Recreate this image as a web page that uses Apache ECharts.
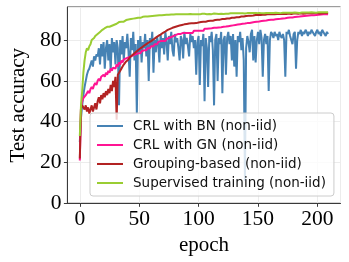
<!DOCTYPE html>
<html>
<head>
<meta charset="utf-8">
<script src="https://cdn.jsdelivr.net/npm/echarts@6/dist/echarts.min.js"></script>
<style>html,body{margin:0;padding:0;background:#fff;}#c{width:349px;height:262px;}</style>
</head>
<body>
<div id="c"></div>
<script>
const seriesNames = ['CRL with BN (non-iid)', 'CRL with GN (non-iid)', 'Grouping-based (non-iid)', 'Supervised training (non-iid)'];
const xTickLabels = [0, 50, 100, 150, 200];
const yTickLabels = [0, 20, 40, 60, 80];

const crlBN = [
30, 42, 48, 53, 57, 60, 63, 65, 66, 68,
70, 67, 72, 70, 73, 72, 76, 68, 78, 72,
79, 66, 76, 80, 70, 78, 65, 81, 74, 79,
68, 80, 76, 48, 80, 73, 82, 70, 79, 76,
83, 74, 62, 81, 75, 84, 70, 78, 44, 80,
74, 82, 69, 79, 76, 83, 72, 80, 60, 81,
77, 84, 64, 80, 74, 82, 78, 69, 83, 76,
81, 73, 84, 79, 70, 82, 78, 84, 75, 72,
83, 79, 81, 76, 70, 82, 80, 71, 84, 78,
81, 77, 72, 83, 79, 82, 76, 80, 63, 79,
82, 58, 80, 77, 83, 50, 81, 76, 57, 82,
79, 84, 75, 48, 80, 83, 60, 81, 78, 84,
54, 80, 82, 63, 81, 84, 78, 82, 70, 83,
67, 80, 62, 82, 79, 84, 75, 81, 70, 11,
76, 82, 79, 74, 83, 85, 70, 82, 69, 80,
84, 78, 85, 81, 62, 80, 83, 78, 82, 55,
80, 84, 83, 81, 84, 82, 83, 80, 84, 82,
81, 83, 80, 62, 84, 83, 85, 82, 80, 78,
83, 84, 66, 80, 84, 83, 85, 82, 84, 83,
85, 84, 82, 84, 83, 85, 84, 83, 82, 84,
85, 83, 84, 82, 85, 84, 83, 82, 84, 83
];
const crlGN = [
21, 47, 50, 51.5, 52, 53, 52.5, 55, 54, 56,
57, 56, 58, 59, 58, 60, 61, 60, 62, 61.5,
63, 62, 64, 63, 65, 64, 66, 65, 66.5, 67,
66, 68, 67, 69, 68, 70, 69, 70.5, 70, 71,
70.5, 71.5, 71, 72, 71.5, 72.5, 72, 73, 72.5, 73.5,
74, 73.5, 74.5, 74, 75, 75.5, 75, 76, 76.5, 76,
77, 77.5, 77, 78, 78.5, 78, 79, 78.5, 79.5, 79,
79.5, 80, 79.5, 80.5, 80, 81, 80.5, 81.5, 81, 82,
81.5, 82.5, 82, 83, 82.5, 83, 82.5, 83.5, 83, 83.5,
83, 83.5, 84, 83.5, 84, 83.5, 84.5, 84, 84.5, 84,
84.5, 85, 84.5, 85, 84.5, 85.5, 85, 85.5, 85, 85.7,
85.3, 85.8, 85.5, 86, 85.5, 86, 85.7, 86.2, 85.8, 86.3,
86, 86.5, 86.1, 86.6, 86.2, 86.8, 86.4, 87, 86.6, 87.2,
86.8, 87.4, 87, 87.6, 87.2, 87.8, 87.4, 88, 87.6, 88.1,
87.8, 88.3, 88, 88.4, 88.1, 88.6, 88.3, 88.8, 88.5, 89,
88.7, 89.1, 88.9, 89.3, 89, 89.5, 89.2, 89.6, 89.4, 89.8,
89.5, 89.9, 89.7, 90, 89.8, 90.2, 89.9, 90.3, 90.1, 90.4,
90.2, 90.6, 90.3, 90.7, 90.5, 90.9, 90.6, 91, 90.8, 91.1,
90.9, 91.3, 91, 91.4, 91.2, 91.5, 91.3, 91.7, 91.4, 91.8,
91.6, 91.9, 91.7, 92, 91.8, 92.1, 91.9, 92.2, 92, 92.3,
92.1, 92.4, 92.2, 92.5, 92.3, 92.6, 92.4, 92.8, 92.5, 92.7
];
const grouping = [
22, 47, 48, 47, 46, 48, 45, 47, 44, 46,
48, 45, 47, 49, 46, 50, 52, 49, 53, 51,
54, 52, 55, 53, 56, 54, 58, 55, 60, 57,
62, 41, 63, 64, 65, 66, 67, 68, 68.5, 69.5,
70, 70.5, 71.5, 71.8, 72.5, 73, 73.5, 74, 74.5, 75.2,
75.5, 76, 76.3, 76.8, 77.2, 77.5, 78, 78.4, 78.8, 79.2,
79.5, 80, 80.3, 80.8, 81.2, 81.5, 82, 82.3, 82.7, 83,
83.5, 83.8, 84.2, 84.5, 85, 85.2, 85.5, 85.7, 86, 86.2,
86.4, 86.6, 86.8, 87, 87.1, 87.3, 87.4, 87.5, 87.7, 87.8,
87.9, 88, 88.1, 88.1, 88.2, 88.3, 88.2, 88.4, 88.3, 88.5,
88.6, 88.7, 88.8, 88.9, 89, 89.1, 89, 89.2, 89.3, 89.4,
89.5, 89.6, 89.5, 89.7, 89.8, 89.9, 90, 90.1, 90, 90.2,
90.3, 90.4, 90.3, 90.5, 90.6, 90.7, 90.6, 90.8, 90.9, 91,
90.9, 91.1, 91.2, 91.3, 91.2, 91.4, 91.5, 91.6, 91.5, 91.7,
91.8, 91.7, 91.9, 92, 91.9, 92.1, 92, 92.2, 92.3, 92.2,
92.3, 92.4, 92.3, 92.5, 92.4, 92.5, 92.4, 92.5, 92.6, 92.5,
92.6, 92.7, 92.6, 92.7, 92.6, 92.7, 92.8, 92.7, 92.8, 92.7,
92.8, 92.9, 92.8, 92.9, 92.8, 92.9, 93, 92.9, 92.8, 92.9,
93, 92.9, 93, 93.1, 92.9, 93, 93.1, 93, 92.9, 93.1,
93, 93.1, 93.2, 93, 93.1, 93.2, 93.1, 93, 93.2, 93.1,
93.2, 93.1, 93, 93.2, 93.1, 93.2, 93.3, 93.1, 93.2, 93.2
];
const supervised = [
33, 48, 55, 64, 70, 74, 76, 75, 77, 78,
80, 79.5, 81, 82, 82.5, 83, 83.5, 84, 84.5, 85,
85.5, 85.8, 85.5, 86.5, 86.8, 86.5, 87.3, 87, 87.8, 87.5,
88.2, 88, 88.5, 88.8, 88.5, 89, 89.3, 89, 89.6, 89.8,
89.6, 90.1, 89.9, 90.3, 90.1, 90.5, 90.3, 90.7, 90.5, 90.9,
91.2, 90.9, 91.2, 91.4, 91.1, 91.5, 91.3, 91.6, 91.4, 91.7,
91.6, 91.8, 91.6, 91.9, 91.8, 92, 91.8, 92.1, 91.9, 92.2,
92.1, 92.3, 92.1, 92.4, 92.2, 92.4, 92.3, 92.5, 92.3, 92.5,
92.4, 92.6, 92.4, 92.6, 92.5, 92.6, 92.4, 92.7, 92.5, 92.7,
92.6, 92.7, 92.5, 92.8, 92.6, 92.7, 92.8, 92.6, 92.8, 92.7,
92.8, 92.6, 92.8, 92.9, 92.7, 92.9, 92.8, 92.7, 92.9, 92.8,
92.9, 92.7, 92.9, 93, 92.8, 92.9, 93, 92.8, 93, 92.9,
93, 92.8, 93, 92.9, 93.1, 92.9, 93, 93.1, 92.9, 93.1,
93, 93.1, 92.9, 93.1, 93, 93.2, 93, 93.1, 93.2, 93,
93.1, 93.2, 93, 93.2, 93.1, 93.2, 93, 93.2, 93.1, 93.2,
93.1, 93.3, 93.1, 93.2, 93.3, 93.1, 93.2, 93.3, 93.1, 93.3,
93.2, 93.3, 93.1, 93.3, 93.2, 93.4, 93.2, 93.3, 93.4, 93.2,
93.3, 93.4, 93.2, 93.4, 93.3, 93.4, 93.2, 93.4, 93.3, 93.4,
93.3, 93.5, 93.3, 93.4, 93.5, 93.3, 93.4, 93.5, 93.3, 93.5,
93.4, 93.5, 93.3, 93.5, 93.4, 93.6, 93.4, 93.5, 93.6, 93.4,
93.5, 93.6, 93.4, 93.6, 93.5, 93.6, 93.4, 93.6, 93.5, 93.6
];
const colors = ['#4682b4', '#ff1493', '#b22222', '#9acd32'];

function pairs(arr) { return arr.map((v, i) => [i, v]); }
const allData = [crlBN, crlGN, grouping, supervised];

const chart = echarts.init(document.getElementById('c'), null, {renderer: 'canvas'});
const serif = '"Liberation Serif", "DejaVu Serif", serif';
chart.setOption({
  animation: false,
  backgroundColor: '#fff',
  grid: {left: 59.5, right: 8.5, top: 7, bottom: 58.7, show: true, borderColor: '#3a3a3a', borderWidth: 1, containLabel: false},
  xAxis: {
    type: 'value', min: -10.45, max: 219.45, splitNumber: 5,
    name: 'epoch', nameLocation: 'middle', nameGap: 27,
    nameTextStyle: {fontFamily: serif, fontSize: 21, color: '#000'},
    axisLine: {show: true, onZero: false, lineStyle: {color: '#3a3a3a', width: 1}},
    axisTick: {show: true, length: 3.5, lineStyle: {color: '#3a3a3a'}},
    axisLabel: {fontFamily: serif, fontSize: 21.5, color: '#000', margin: 5, showMinLabel: false, showMaxLabel: false,
      formatter: v => xTickLabels.includes(v) ? String(v) : ''},
    splitLine: {show: true, lineStyle: {color: '#ececec', width: 1}}
  },
  yAxis: {
    type: 'value', min: 0, max: 96.2, splitNumber: 5,
    name: 'Test accuracy', nameLocation: 'middle', nameGap: 32, nameRotate: 90,
    nameTextStyle: {fontFamily: serif, fontSize: 21, color: '#000'},
    axisLine: {show: true, onZero: false, lineStyle: {color: '#3a3a3a', width: 1}},
    axisTick: {show: true, length: 3.5, lineStyle: {color: '#3a3a3a'}},
    axisLabel: {fontFamily: serif, fontSize: 21.5, color: '#000', margin: 6, showMaxLabel: false,
      formatter: v => yTickLabels.includes(v) ? String(v) : ''},
    splitLine: {show: true, lineStyle: {color: '#ececec', width: 1}}
  },
  legend: {
    orient: 'vertical', left: 90, top: 113,
    padding: [6, 8, 6, 7],
    itemWidth: 26, itemHeight: 2, itemGap: 5,
    icon: 'rect',
    backgroundColor: 'rgba(255,255,255,0.8)',
    borderColor: '#cccccc', borderWidth: 1, borderRadius: 3,
    textStyle: {fontFamily: '"DejaVu Sans", sans-serif', fontSize: 13.5, color: '#111', lineHeight: 14, padding: [0, 0, 0, 5]},
    data: seriesNames
  },
  series: seriesNames.map((name, k) => ({
    name: name, type: 'line', data: pairs(allData[k]),
    showSymbol: false, symbol: 'none',
    lineStyle: {color: colors[k], width: 2},
    itemStyle: {color: colors[k]},
    z: 2 + k * 0.01
  }))
});
</script>
</body>
</html>
